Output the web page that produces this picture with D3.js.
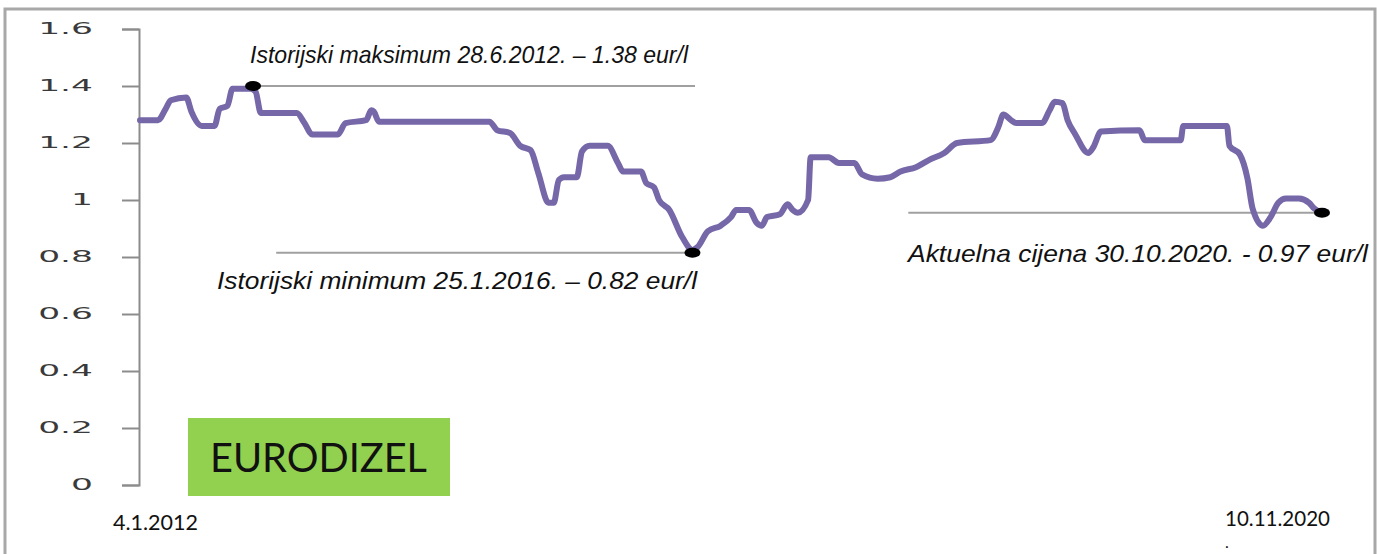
<!DOCTYPE html>
<html>
    <head>
        <meta charset="utf-8">
        <style>
            body {
                    margin: 0;
                    background: white;
            }
            svg {
                    display: block;
            }
            .axis path, .axis line {
                    stroke: #8c8c8c;
                    stroke-width: 2;
            }
            .axis text {
                    font-family: "DejaVu Sans", sans-serif;
                    font-size: 15px;
                    fill: #3a3a3a;
            }
            .note {
                    font-family: "Liberation Sans", Arial, sans-serif;
                    font-style: italic;
                    font-size: 24px;
                    fill: #111;
            }
            .cal {
                    font-family: Lato, "Open Sans", sans-serif;
                    fill: #111;
            }
        </style>
    </head>

    <body>
        <script src="https://d3js.org/d3.v7.min.js"></script>
        <script>
            // weekly price of eurodizel, eur/l (week 0 = 4.1.2012)
            var weeks = [0, 7, 10, 12, 18, 20, 24, 29, 31, 34, 36, 43, 45, 47, 61, 64, 67, 77, 80, 88,
                         90, 91, 93, 136, 139, 144, 148, 152, 155, 159, 161, 163, 165, 170, 172, 175, 182, 186, 188, 195,
                         197, 200, 202, 206, 211, 215, 217, 221, 226, 230, 232, 237, 240, 242, 244, 249, 252, 254, 256, 260,
                         261, 268, 272, 278, 281, 287, 292, 296, 302, 307, 313, 318, 331, 334, 336, 339, 341, 351, 354, 356,
                         359, 361, 364, 369, 371, 374, 389, 391, 405, 406, 423, 424, 428, 431, 433, 437, 440, 443, 446, 451,
                         455, 457, 460];
            var prices = [1.28, 1.28, 1.32, 1.35, 1.36, 1.31, 1.26, 1.26, 1.32, 1.33, 1.39, 1.39, 1.38, 1.305, 1.305, 1.27, 1.23, 1.23, 1.27, 1.28,
                          1.315, 1.31, 1.275, 1.275, 1.245, 1.235, 1.19, 1.175, 1.095, 0.99, 0.99, 1.07, 1.08, 1.08, 1.17, 1.19, 1.19, 1.13, 1.10, 1.10,
                          1.06, 1.045, 1.0, 0.965, 0.87, 0.825, 0.835, 0.89, 0.91, 0.94, 0.965, 0.965, 0.92, 0.91, 0.94, 0.95, 0.985, 0.965, 0.955, 1.0,
                          1.15, 1.15, 1.13, 1.13, 1.09, 1.075, 1.08, 1.10, 1.115, 1.14, 1.165, 1.20, 1.21, 1.255, 1.30, 1.28, 1.27, 1.27, 1.315, 1.345,
                          1.34, 1.28, 1.23, 1.165, 1.185, 1.24, 1.245, 1.21, 1.21, 1.26, 1.26, 1.19, 1.16, 1.075, 0.97, 0.91, 0.94, 0.99, 1.005, 1.005,
                          0.99, 0.97, 0.955];
            var yTicks = [0, 0.2, 0.4, 0.6, 0.8, 1, 1.2, 1.4, 1.6];

            // marked points: maximum, minimum, current price
            var markWeeks = [44, 215, 460];
            var markValues = [1.40, 0.815, 0.955];
            // horizontal guide lines [from week, to week]
            var guideFrom = [44, 53, 299];
            var guideTo = [216, 215, 460];
            var notes = ["Istorijski maksimum 28.6.2012. – 1.38 eur/l",
                         "Istorijski minimum 25.1.2016. – 0.82 eur/l",
                         "Aktuelna cijena 30.10.2020. - 0.97 eur/l"];
            var dateLabels = ["4.1.2012", "10.11.2020"];

            var W = 1377, H = 554;

            var svg = d3.select("body").append("svg")
                    .attr("width", W)
                    .attr("height", H);

            // grey frame around the picture
            svg.append("path")
                .attr("d", "M5," + H + "V9H1375V" + H)
                .attr("fill", "none")
                .attr("stroke", "#a8a8a8")
                .attr("stroke-width", 3);

            var x = d3.scaleLinear()
                .domain([0, 460])
                .range([140, 1322]);

            var y = d3.scaleLinear()
                .domain([0, 1.6])
                .range([485, 29]);

            // y axis, labels are drawn stretched like in the original image
            var yAxis = svg.append("g")
                .attr("class", "axis")
                .attr("transform", "translate(139,0)")
                .call(d3.axisLeft(y).tickValues(yTicks).tickSize(17).tickSizeOuter(17)
                    .tickFormat(function(d){ return d3.format("~g")(d); }));

            yAxis.selectAll(".tick text")
                .attr("x", -46 / 2.3)
                .attr("transform", "scale(2.3,1)");

            // guide lines
            svg.selectAll(".guide")
                .data(guideFrom)
                .enter().append("line")
                .attr("class", "guide")
                .attr("x1", function(d){ return x(d); })
                .attr("x2", function(d, i){ return x(guideTo[i]); })
                .attr("y1", function(d, i){ return y(markValues[i]); })
                .attr("y2", function(d, i){ return y(markValues[i]); })
                .attr("stroke", "#a0a0a0")
                .attr("stroke-width", 2);

            // price line
            var line = d3.line()
                .x(function(d, i){ return x(weeks[i]); })
                .y(function(d){ return y(d); })
                .curve(d3.curveMonotoneX);

            svg.append("path")
                .datum(prices)
                .attr("d", line)
                .attr("fill", "none")
                .attr("stroke", "#7567a8")
                .attr("stroke-width", 6)
                .attr("stroke-linejoin", "round")
                .attr("stroke-linecap", "round");

            // black dots
            svg.selectAll(".mark")
                .data(markWeeks)
                .enter().append("ellipse")
                .attr("class", "mark")
                .attr("cx", function(d){ return x(d); })
                .attr("cy", function(d, i){ return y(markValues[i]); })
                .attr("rx", 8)
                .attr("ry", 5)
                .attr("fill", "black");

            // annotation texts
            var notePos = [[250, 63, 438], [217, 289, 480], [908, 262, 460]];
            svg.selectAll(".note")
                .data(notes)
                .enter().append("text")
                .attr("class", "note")
                .attr("x", function(d, i){ return notePos[i][0]; })
                .attr("y", function(d, i){ return notePos[i][1]; })
                .attr("textLength", function(d, i){ return notePos[i][2]; })
                .attr("lengthAdjust", "spacingAndGlyphs")
                .text(function(d){ return d; });

            // green title box
            svg.append("rect")
                .attr("x", 188)
                .attr("y", 418)
                .attr("width", 262)
                .attr("height", 78)
                .attr("fill", "#92d050");

            svg.append("text")
                .attr("class", "cal")
                .attr("x", 210)
                .attr("y", 472)
                .attr("font-size", 40)
                .attr("textLength", 217)
                .attr("lengthAdjust", "spacingAndGlyphs")
                .text("EURODIZEL");

            // start and end dates
            svg.append("text")
                .attr("class", "cal")
                .attr("x", 113)
                .attr("y", 530)
                .attr("font-size", 21)
                .attr("textLength", 85)
                .attr("lengthAdjust", "spacingAndGlyphs")
                .text(dateLabels[0]);

            svg.append("text")
                .attr("class", "cal")
                .attr("x", 1225)
                .attr("y", 526)
                .attr("font-size", 21)
                .attr("textLength", 105)
                .attr("lengthAdjust", "spacingAndGlyphs")
                .text(dateLabels[1]);

            svg.append("text")
                .attr("class", "cal")
                .attr("x", 1225)
                .attr("y", 548)
                .attr("font-size", 16)
                .text(".");
        </script>
    </body>
</html>
